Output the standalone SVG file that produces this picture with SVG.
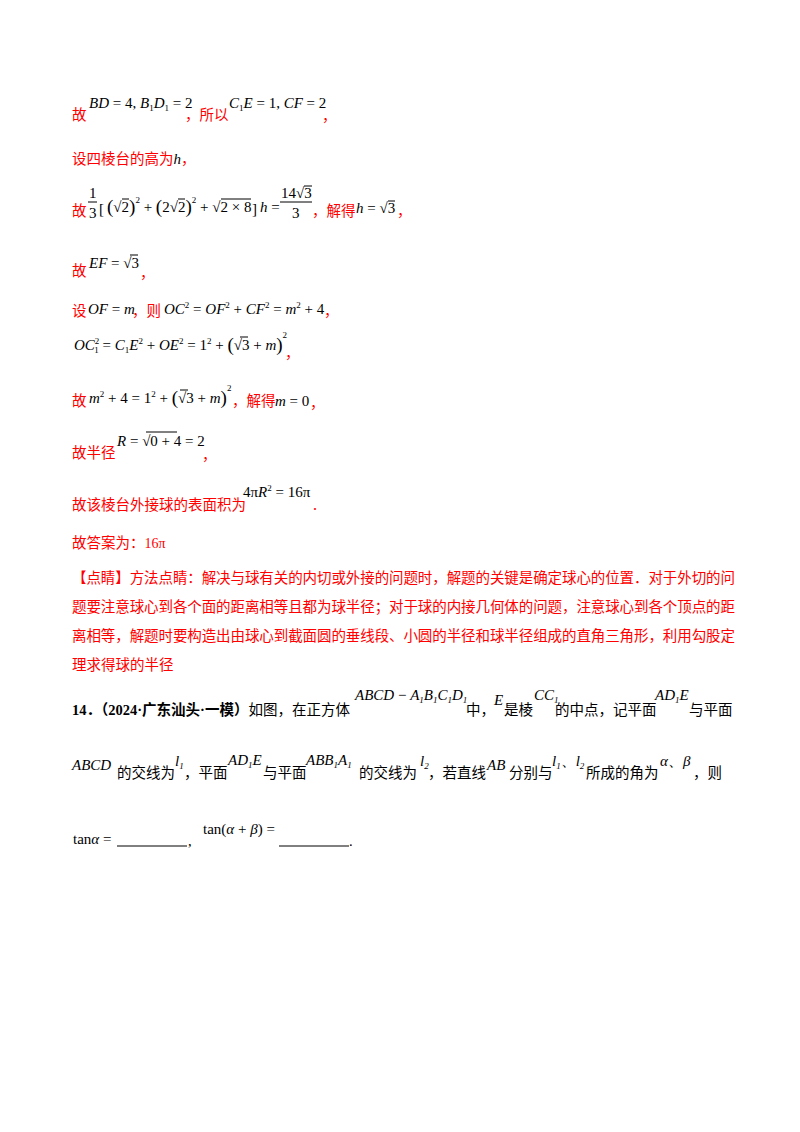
<svg xmlns="http://www.w3.org/2000/svg" width="800" height="1132" viewBox="0 0 800 1132">
<style>
.c{font-family:"Noto Sans CJK SC",sans-serif;font-size:14.5px;fill:#f00}
.k{font-family:"Liberation Serif","Noto Sans CJK SC",serif;font-size:14.5px;fill:#000}
.m{font-family:"Liberation Serif",serif;font-size:15px;fill:#000}
.i{font-style:italic}
.s{font-size:9px}
.p{font-size:19px}
.r{fill:#f00;font-family:"Liberation Serif",serif;font-size:14px}
line{stroke:#000;stroke-width:1}
</style>
<rect width="800" height="1132" fill="#fff"/>
<g id="l1">
<text class="c" x="72" y="120">故</text>
<text class="m" x="89" y="108"><tspan class="i">BD</tspan> = 4, <tspan class="i">B</tspan><tspan class="s" dy="3">1</tspan><tspan class="i" dy="-3">D</tspan><tspan class="s" dy="3">1</tspan><tspan dy="-3"> = 2</tspan></text>
<text class="c" x="185" y="120">，所以</text>
<text class="m" x="229" y="108"><tspan class="i">C</tspan><tspan class="s" dy="3">1</tspan><tspan class="i" dy="-3">E</tspan> = 1, <tspan class="i">CF</tspan> = 2</text>
<text class="c" x="322" y="121">，</text>
</g>
<g id="l2"><text class="c" x="72" y="164">设四棱台的高为<tspan class="m i">h</tspan>，</text></g>
<g id="l3">
<text class="c" x="72" y="216">故</text>
<text class="m" x="89" y="198">1</text><line x1="88" y1="202" x2="97" y2="202"/><text class="m" x="89" y="218">3</text>
<text class="m" x="99" y="214" font-size="22">[</text>
<text class="m" x="107" y="212"><tspan class="p" dy="1">(</tspan><tspan dy="-1">√2</tspan><tspan class="p" dy="1">)</tspan><tspan class="s" dy="-10">2</tspan><tspan dy="9"> + </tspan><tspan class="p" dy="1">(</tspan><tspan dy="-1">2√2</tspan><tspan class="p" dy="1">)</tspan><tspan class="s" dy="-10">2</tspan><tspan dy="9"> + √2 × 8</tspan></text>
<line x1="122" y1="199" x2="129" y2="199"/><line x1="178" y1="199" x2="185" y2="199"/><line x1="221" y1="199" x2="251" y2="199"/>
<text class="m" x="252" y="214" font-size="22">]</text>
<text class="m" x="260" y="212"><tspan class="i">h</tspan> =</text>
<text class="m" x="281" y="198">14√3</text><line x1="304" y1="186" x2="312" y2="186"/><line x1="280" y1="202" x2="312" y2="202"/><text class="m" x="292" y="218">3</text>
<text class="c" x="312" y="216">，解得</text>
<text class="m" x="356" y="213"><tspan class="i">h</tspan> = √3</text><line x1="388" y1="201" x2="395" y2="201"/>
<text class="c" x="397" y="216">，</text>
</g>
<g id="l4">
<text class="c" x="72" y="276">故</text>
<text class="m" x="89" y="268" font-size="16"><tspan class="i">EF</tspan> = √3</text><line x1="130" y1="255" x2="138" y2="255"/>
<text class="c" x="140" y="278">，</text>
</g>
<g id="l5">
<text class="c" x="72" y="316">设</text>
<text class="m i" x="88" y="314">OF<tspan font-style="normal"> = </tspan>m</text>
<text class="c" x="132" y="316">，则</text>
<text class="m" x="164" y="314"><tspan class="i">OC</tspan><tspan class="s" dy="-6">2</tspan><tspan dy="6"> = </tspan><tspan class="i">OF</tspan><tspan class="s" dy="-6">2</tspan><tspan dy="6"> + </tspan><tspan class="i">CF</tspan><tspan class="s" dy="-6">2</tspan><tspan dy="6"> = </tspan><tspan class="i">m</tspan><tspan class="s" dy="-6">2</tspan><tspan dy="6"> + 4</tspan></text>
<text class="c" x="324" y="316">，</text>
</g>
<g id="l6">
<text class="m" x="74" y="350"><tspan class="i">OC</tspan><tspan class="s" dy="-6">2</tspan><tspan class="s" dx="-5" dy="9">1</tspan><tspan dy="-3"> = </tspan><tspan class="i">C</tspan><tspan class="s" dy="3">1</tspan><tspan class="i" dy="-3">E</tspan><tspan class="s" dy="-6">2</tspan><tspan dy="6"> + </tspan><tspan class="i">OE</tspan><tspan class="s" dy="-6">2</tspan><tspan dy="6"> = 1</tspan><tspan class="s" dy="-6">2</tspan><tspan dy="6"> + </tspan><tspan class="p" dy="1">(</tspan><tspan dy="-1">√3 + </tspan><tspan class="i">m</tspan><tspan class="p" dy="1">)</tspan><tspan class="s" dy="-13">2</tspan></text>
<line x1="240" y1="337" x2="248" y2="337"/>
<text class="c" x="285" y="358">，</text>
</g>
<g id="l7">
<text class="c" x="72" y="406">故</text>
<text class="m" x="89" y="403"><tspan class="i">m</tspan><tspan class="s" dy="-6">2</tspan><tspan dy="6"> + 4 = 1</tspan><tspan class="s" dy="-6">2</tspan><tspan dy="6"> + </tspan><tspan class="p" dy="1">(</tspan><tspan dy="-1">√3 + </tspan><tspan class="i">m</tspan><tspan class="p" dy="1">)</tspan><tspan class="s" dy="-13">2</tspan></text>
<line x1="180" y1="390" x2="188" y2="390"/>
<text class="c" x="232" y="406">，解得</text>
<text class="m" x="275" y="406"><tspan class="i">m</tspan> = 0</text>
<text class="c" x="310" y="408">，</text>
</g>
<g id="l8">
<text class="c" x="72" y="458">故半径</text>
<text class="m" x="117" y="446"><tspan class="i">R</tspan> = √0 + 4 = 2</text><line x1="146" y1="432" x2="177" y2="432"/>
<text class="c" x="202" y="460">，</text>
</g>
<g id="l9">
<text class="c" x="72" y="510">故该棱台外接球的表面积为</text>
<text class="m" x="243" y="497">4π<tspan class="i">R</tspan><tspan class="s" dy="-6">2</tspan><tspan dy="6"> = 16π</tspan></text>
<text class="c" x="313" y="510">.</text>
</g>
<g id="l10">
<text class="c" x="72" y="548">故答案为：<tspan class="r">16π</tspan></text>
</g>
<g id="p">
<text class="c" x="72" y="583" textLength="663">【点睛】方法点睛：解决与球有关的内切或外接的问题时，解题的关键是确定球心的位置．对于外切的问</text>
<text class="c" x="72" y="612" textLength="663">题要注意球心到各个面的距离相等且都为球半径；对于球的内接几何体的问题，注意球心到各个顶点的距</text>
<text class="c" x="72" y="641" textLength="663">离相等，解题时要构造出由球心到截面圆的垂线段、小圆的半径和球半径组成的直角三角形，利用勾股定</text>
<text class="c" x="72" y="670">理求得球的半径</text>
</g>
<g id="q14">
<text class="k" x="72" y="715"><tspan font-weight="bold">14．（2024·广东汕头·一模）</tspan>如图，在正方体</text>
<text class="m i" x="355" y="700" font-size="12">ABCD<tspan font-style="normal"> − </tspan>A<tspan class="s" dy="3">1</tspan><tspan dy="-3">B</tspan><tspan class="s" dy="3">1</tspan><tspan dy="-3">C</tspan><tspan class="s" dy="3">1</tspan><tspan dy="-3">D</tspan><tspan class="s" dy="3">1</tspan></text>
<text class="k" x="466" y="715">中，</text>
<text class="m i" x="494" y="705" font-size="13">E</text>
<text class="k" x="504" y="715">是棱</text>
<text class="m i" x="534" y="700" font-size="13">CC<tspan class="s" dy="3">1</tspan></text>
<text class="k" x="555" y="715">的中点，记平面</text>
<text class="m i" x="655" y="700" font-size="13">AD<tspan class="s" dy="3">1</tspan><tspan dy="-3">E</tspan></text>
<text class="k" x="689" y="715">与平面</text>
<text class="m i" x="72" y="770" font-size="13">ABCD</text>
<text class="k" x="117" y="778">的交线为</text>
<text class="m i" x="175" y="766" font-size="13">l<tspan class="s" dy="3">1</tspan></text>
<text class="k" x="184" y="778">，平面</text>
<text class="m i" x="228" y="765" font-size="13">AD<tspan class="s" dy="3">1</tspan><tspan dy="-3">E</tspan></text>
<text class="k" x="263" y="778">与平面</text>
<text class="m i" x="306" y="765" font-size="13">ABB<tspan class="s" dy="3">1</tspan><tspan dy="-3">A</tspan><tspan class="s" dy="3">1</tspan></text>
<text class="k" x="359" y="778">的交线为</text>
<text class="m i" x="420" y="766" font-size="13">l<tspan class="s" dy="3">2</tspan></text>
<text class="k" x="428" y="778">，若直线</text>
<text class="m i" x="487" y="770" font-size="13">AB</text>
<text class="k" x="509" y="778">分别与</text>
<text class="m i" x="552" y="766" font-size="13">l<tspan class="s" dy="3">1</tspan><tspan font-style="normal" dy="-3">、</tspan>l<tspan class="s" dy="3">2</tspan></text>
<text class="k" x="586" y="778">所成的角为</text>
<text class="m i" x="660" y="766">α<tspan font-style="normal">、</tspan>β</text>
<text class="k" x="693" y="778">，则</text>
<text class="m" x="73" y="844" font-size="13">tan<tspan class="i">α</tspan> =</text>
<line x1="117" y1="846" x2="187" y2="846"/>
<text class="k" x="188" y="846">,</text>
<text class="m" x="203" y="834" font-size="13">tan(<tspan class="i">α</tspan> + <tspan class="i">β</tspan>) =</text>
<line x1="279" y1="846" x2="349" y2="846"/>
<text class="k" x="349" y="846">.</text>
</g>
</svg>
